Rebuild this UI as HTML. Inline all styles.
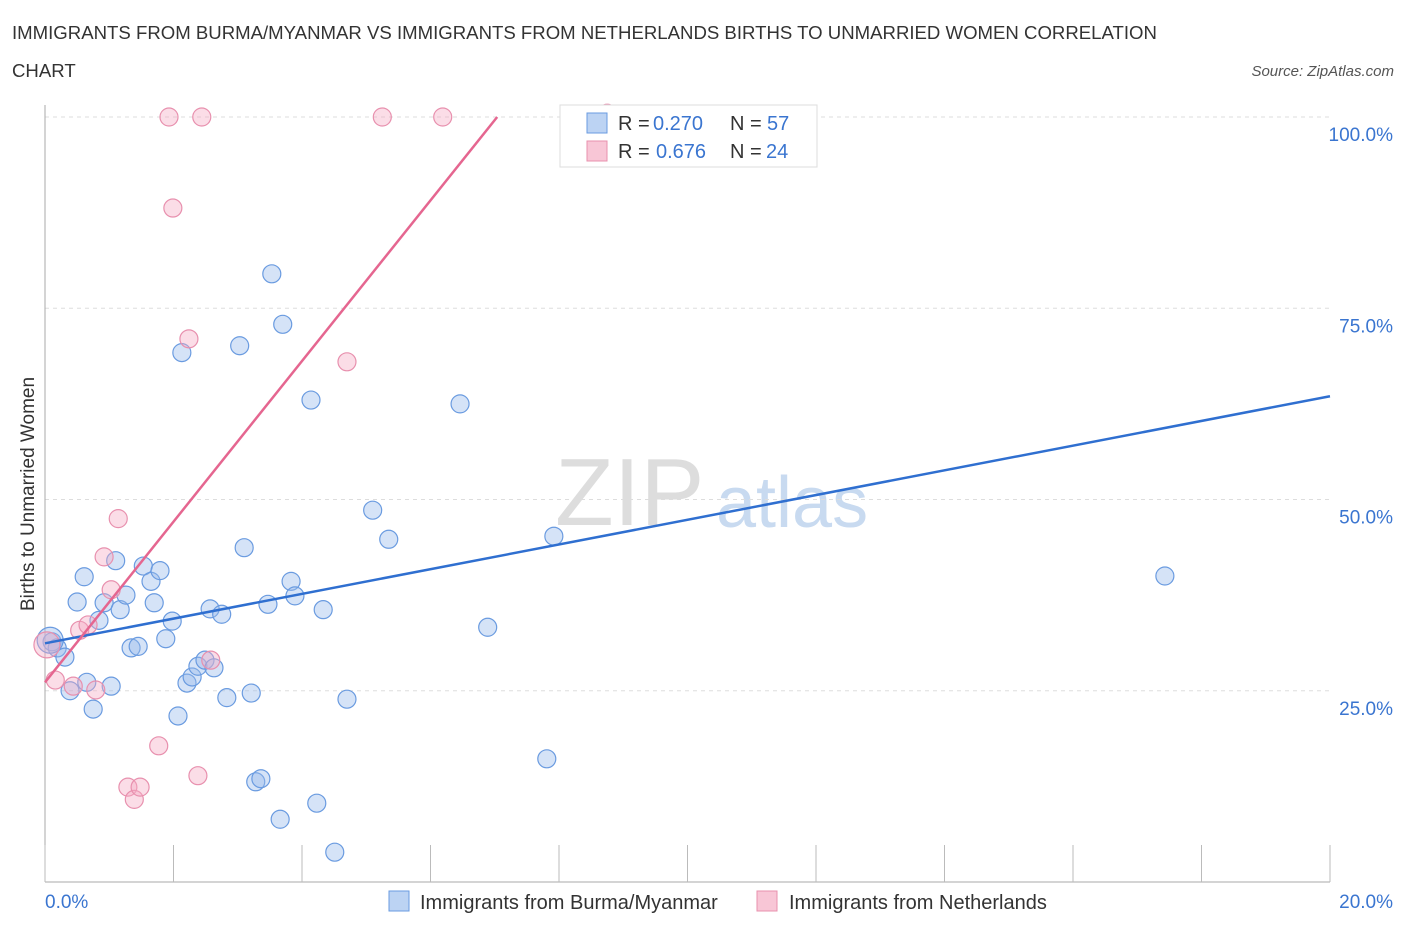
<!DOCTYPE html>
<html><head><meta charset="utf-8"><style>
body{margin:0;background:#fff;font-family:"Liberation Sans",sans-serif;}
svg text{font-family:"Liberation Sans",sans-serif;}
</style></head><body>
<svg id="chart" width="1406" height="930" viewBox="0 0 1406 930" xmlns="http://www.w3.org/2000/svg">
<text x="12" y="39" font-size="18.6" fill="#333">IMMIGRANTS FROM BURMA/MYANMAR VS IMMIGRANTS FROM NETHERLANDS BIRTHS TO UNMARRIED WOMEN CORRELATION</text>
<text x="12" y="77" font-size="18.6" fill="#333">CHART</text>
<text x="1394" y="76" font-size="15" fill="#555" text-anchor="end" font-style="italic">Source: ZipAtlas.com</text>
<text x="555" y="525" font-size="96" fill="#ddd" font-family="Liberation Serif">ZIP</text>
<text x="716" y="527" font-size="72" fill="#c8daf0">atlas</text>
<g id="grid"></g>
<g id="axes"></g>
<g id="points"></g>
<g id="lines"></g>
<text transform="translate(34,494) rotate(-90)" font-size="19" fill="#333" text-anchor="middle">Births to Unmarried Women</text>
<text x="45" y="908" font-size="19" fill="#3a75d0">0.0%</text>
<text x="1393" y="908" font-size="19" fill="#3a75d0" text-anchor="end">20.0%</text>
<g>
<rect x="560" y="105" width="257" height="62" fill="#fff" stroke="#ddd"/>
<rect x="587" y="113" width="20" height="20" fill="#bcd3f3" stroke="#6a9be0"/>
<rect x="587" y="141" width="20" height="20" fill="#f8c6d6" stroke="#e890ae"/>
<text y="130" font-size="20" fill="#333"><tspan x="618">R =</tspan><tspan x="653" fill="#3a75d0">0.270</tspan><tspan x="730">N =</tspan><tspan x="767" fill="#3a75d0">57</tspan></text>
<text y="158" font-size="20" fill="#333"><tspan x="618">R =</tspan><tspan x="656" fill="#3a75d0">0.676</tspan><tspan x="730">N =</tspan><tspan x="766" fill="#3a75d0">24</tspan></text>
</g>
<g>
<rect x="389" y="891" width="20" height="20" fill="#bcd3f3" stroke="#6a9be0"/>
<text x="420" y="909" font-size="20" fill="#333">Immigrants from Burma/Myanmar</text>
<rect x="757" y="891" width="20" height="20" fill="#f8c6d6" stroke="#e890ae"/>
<text x="789" y="909" font-size="20" fill="#333">Immigrants from Netherlands</text>
</g>
</svg>
<script>
const yTicks=[25,50,75,100];
const yTickLabels=["25.0%","50.0%","75.0%","100.0%"];
const xTicks=[0,2,4,6,8,10,12,14,16,18,20];
const blueX=[0.11,0.19,0.31,0.39,0.50,0.61,0.65,0.75,0.84,0.92,1.03,1.10,1.17,1.26,1.34,1.45,1.53,1.65,1.70,1.79,1.88,1.98,2.07,2.13,2.21,2.29,2.38,2.49,2.57,2.63,2.75,2.83,3.03,3.10,3.21,3.28,3.36,3.47,3.53,3.66,3.70,3.83,3.89,4.14,4.23,4.33,4.51,4.70,5.10,5.35,6.46,6.89,7.81,7.92,11.19,17.43,0.08];
const blueY=[31.4,30.6,29.4,25.0,36.6,39.9,26.1,22.6,34.2,36.5,25.6,42.0,35.6,37.5,30.6,30.8,41.3,39.3,36.5,40.7,31.8,34.1,21.7,69.2,26.0,26.8,28.2,29.0,35.7,28.0,35.0,24.1,70.1,43.7,24.7,13.1,13.5,36.3,79.5,8.2,72.9,39.3,37.4,63.0,10.3,35.6,3.9,23.9,48.6,44.8,62.5,33.3,16.1,45.2,100,40.0,31.6];
const pinkX=[0.03,0.16,0.44,0.54,0.67,0.79,0.92,1.03,1.14,1.29,1.39,1.48,1.77,1.93,1.99,2.24,2.38,2.44,2.58,4.70,5.25,6.19,8.75];
const pinkY=[31.0,26.4,25.6,32.9,33.6,25.1,42.5,38.2,47.5,12.4,10.8,12.4,17.8,100,88.1,71.0,13.9,100,29.0,68.0,100,100,100.5];
const blueTrend=[31.2,63.5];
const pinkTrend=[26.1,36.6];
const NS="http://www.w3.org/2000/svg";
const sx=v=>45+v/20*1285;
const sy=v=>882-v*7.65;
function mk(tag,attrs,parent){const e=document.createElementNS(NS,tag);for(const k in attrs)e.setAttribute(k,attrs[k]);parent.appendChild(e);return e;}
const grid=document.getElementById('grid'),axes=document.getElementById('axes'),pts=document.getElementById('points'),lines=document.getElementById('lines');
yTicks.forEach((t,i)=>{
 const l=mk('line',{x1:45,x2:1330,y1:sy(t),y2:sy(t),stroke:'#ddd','stroke-dasharray':'4,4'},grid);
 
 
 const tx=mk('text',{x:1393,y:sy(t)+24,'font-size':19,fill:'#3a75d0','text-anchor':'end'},grid);
 tx.textContent=yTickLabels[i];
 
 
});
const ya=mk('line',{x1:45,x2:45,y1:105,y2:882,stroke:'#aaa'},axes);


const xa=mk('line',{x1:45,x2:1330,y1:882,y2:882,stroke:'#aaa'},axes);


xTicks.forEach(t=>{
 const l=mk('line',{x1:sx(t),x2:sx(t),y1:845,y2:882,stroke:'#bbb'},axes);
 
 
});
blueX.forEach((x,i)=>{
 const c=mk('circle',{cx:sx(x),cy:sy(blueY[i]),r:i==blueX.length-1?13:9,fill:'rgba(150,185,235,0.4)',stroke:'#6a9be0','stroke-width':1.2},pts);
 
 
});
pinkX.forEach((x,i)=>{
 const c=mk('circle',{cx:sx(x),cy:sy(pinkY[i]),r:i==0?13:9,fill:'rgba(245,170,195,0.4)',stroke:'#e890ae','stroke-width':1.2},pts);
 
 
});
const bl=mk('line',{x1:sx(0),y1:sy(blueTrend[0]),x2:sx(20),y2:sy(blueTrend[1]),stroke:'#2f6fd0','stroke-width':2.5},lines);


const pEnd=(100-pinkTrend[0])/(pinkTrend[1]-pinkTrend[0]);
const pl=mk('line',{x1:sx(0),y1:sy(pinkTrend[0]),x2:sx(pEnd),y2:sy(100),stroke:'#e56690','stroke-width':2.5},lines);


</script>
</body></html>
